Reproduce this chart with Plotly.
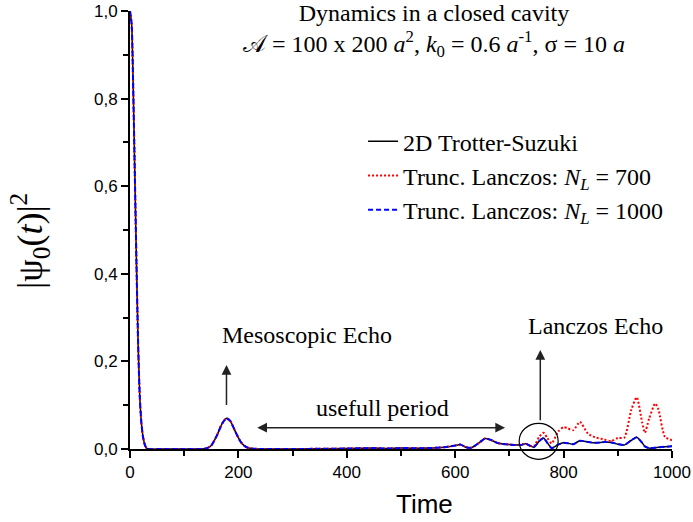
import plotly.graph_objects as go

# ---- data ----
time = [0, 3, 6, 9, 12, 15, 18, 21, 24, 27, 30, 35, 60, 100, 140, 150, 160, 170, 178,
        185, 195, 205, 215, 225, 240, 300, 400, 450, 470, 500, 550, 580, 600, 610,
        620, 630, 645, 655, 665, 680, 700, 720, 730, 737, 745, 755, 763, 770, 778,
        790, 800, 808, 818, 830, 845, 860, 875, 888, 900, 912, 925, 935, 945, 950,
        958, 969, 975, 987, 1000]

trotter = [1.0, 0.97, 0.82, 0.62, 0.42, 0.24, 0.12, 0.06, 0.028, 0.011, 0.003, 0.0,
           0.0, 0.0, 0.001, 0.008, 0.03, 0.058, 0.07, 0.064, 0.038, 0.015, 0.004,
           0.001, 0.0, 0.0, 0.001, 0.002, 0.001, 0.002, 0.002, 0.004, 0.008, 0.01,
           0.004, 0.003, 0.015, 0.024, 0.021, 0.013, 0.01, 0.009, 0.012, 0.008,
           0.004, 0.018, 0.025, 0.014, 0.002, 0.01, 0.014, 0.013, 0.011, 0.019,
           0.016, 0.014, 0.016, 0.015, 0.011, 0.009, 0.02, 0.027, 0.014, 0.006,
           0.002, 0.003, 0.004, 0.005, 0.006]

lanczos_700 = [1.0, 0.97, 0.82, 0.62, 0.42, 0.24, 0.12, 0.06, 0.028, 0.011, 0.003, 0.0,
               0.0, 0.0, 0.001, 0.008, 0.03, 0.058, 0.07, 0.064, 0.038, 0.015, 0.004,
               0.001, 0.0, 0.0, 0.001, 0.002, 0.001, 0.002, 0.002, 0.004, 0.008, 0.01,
               0.004, 0.003, 0.015, 0.024, 0.021, 0.013, 0.01, 0.009, 0.012, 0.008,
               0.006, 0.028, 0.037, 0.025, 0.013, 0.04, 0.05, 0.047, 0.043, 0.062,
               0.035, 0.026, 0.022, 0.018, 0.025, 0.026, 0.09, 0.118, 0.06, 0.037,
               0.07, 0.104, 0.09, 0.028, 0.02]

lanczos_1000 = list(trotter)

x_ticks = [0, 200, 400, 600, 800, 1000]
y_ticks = [0.0, 0.2, 0.4, 0.6, 0.8, 1.0]
y_ticktext = ["0,0", "0,2", "0,4", "0,6", "0,8", "1,0"]

X_RANGE = [0, 1000]
Y_RANGE = [0, 1.0]

SERIF = "Liberation Serif"
SANS = "Liberation Sans"

fig = go.Figure()
fig.add_trace(go.Scatter(x=time, y=trotter, mode="lines", name="2D Trotter-Suzuki",
                         line=dict(color="black", width=1.5, shape="spline", smoothing=0.6),
                         cliponaxis=False))
fig.add_trace(go.Scatter(x=time, y=lanczos_700, mode="lines",
                         name="Trunc. Lanczos: <i>N</i><sub><i>L</i></sub> = 700",
                         line=dict(color="#ff0000", width=2, dash="2px,2px", shape="spline", smoothing=0.6),
                         cliponaxis=False))
fig.add_trace(go.Scatter(x=time, y=lanczos_1000, mode="lines",
                         name="Trunc. Lanczos: <i>N</i><sub><i>L</i></sub> = 1000",
                         line=dict(color="#0000ff", width=2, dash="5px,3px", shape="spline", smoothing=0.6),
                         cliponaxis=False))


def px(v):
    return (v - X_RANGE[0]) / (X_RANGE[1] - X_RANGE[0])


def py(v):
    return (v - Y_RANGE[0]) / (Y_RANGE[1] - Y_RANGE[0])


annots = [
    dict(text="Dynamics in a closed cavity<br>"
              "𝒜 = 100 x 200 <i>a</i><sup>2</sup>, <i>k</i><sub>0</sub> = 0.6 <i>a</i><sup>-1</sup>, σ = 10 <i>a</i>",
         xref="paper", yref="paper", x=px(560), y=py(0.955), xanchor="center", yanchor="middle",
         showarrow=False, font=dict(family=SERIF, size=24, color="black")),
    dict(text="Mesoscopic Echo", xref="x", yref="y", x=326, y=0.26,
         xanchor="center", yanchor="middle", showarrow=False,
         font=dict(family=SERIF, size=24, color="black")),
    dict(text="usefull period", xref="x", yref="y", x=465, y=0.094,
         xanchor="center", yanchor="middle", showarrow=False,
         font=dict(family=SERIF, size=24, color="black")),
    dict(text="Lanczos Echo", xref="x", yref="y", x=859, y=0.28,
         xanchor="center", yanchor="middle", showarrow=False,
         font=dict(family=SERIF, size=24, color="black")),
    # axis titles
    dict(text="Time", xref="paper", yref="paper", x=px(544), y=-0.125,
         xanchor="center", yanchor="middle", showarrow=False,
         font=dict(family=SANS, size=26, color="black")),
    dict(text="|ψ<sub>0</sub>(<i>t</i>)|<sup>2</sup>", xref="paper", yref="paper",
         x=-0.1845, y=py(0.475), xanchor="center", yanchor="middle", textangle=-90,
         showarrow=False, font=dict(family=SERIF, size=36, color="black")),
    # arrows
    dict(text="", xref="x", yref="y", axref="x", ayref="y", x=178, y=0.192, ax=178, ay=0.097,
         showarrow=True, arrowhead=2, arrowsize=1.3, arrowwidth=1.5, arrowcolor="#222"),
    dict(text="", xref="x", yref="y", axref="x", ayref="y", x=692, y=0.0486, ax=232, ay=0.0486,
         showarrow=True, arrowhead=2, arrowside="end+start", arrowsize=1.3, arrowwidth=1.5,
         arrowcolor="#222"),
    dict(text="", xref="x", yref="y", axref="x", ayref="y", x=757, y=0.226, ax=757, ay=0.062,
         showarrow=True, arrowhead=2, arrowsize=1.3, arrowwidth=1.5, arrowcolor="#222"),
]

shapes = [
    dict(type="circle", xref="paper", yref="paper", x0=px(718), x1=px(790),
         y0=py(-0.0235), y1=py(0.0587), line=dict(color="black", width=1.2)),
]

fig.update_layout(
    width=693, height=522,
    margin=dict(l=130, r=21, t=11, b=73, autoexpand=False),
    paper_bgcolor="white", plot_bgcolor="white",
    showlegend=True,
    legend=dict(x=px(430), y=py(0.753), xanchor="left", yanchor="top",
                bgcolor="rgba(0,0,0,0)", borderwidth=0,
                font=dict(family=SERIF, size=24, color="black"),
                tracegroupgap=0, itemwidth=30),
    annotations=annots,
    shapes=shapes,
    xaxis=dict(range=X_RANGE, tickvals=x_ticks, showgrid=False, zeroline=False,
               showline=True, linecolor="black", linewidth=2,
               ticks="outside", ticklen=7, tickwidth=2, tickcolor="black",
               minor=dict(dtick=100, tick0=0, ticks="outside", ticklen=5, tickwidth=2, tickcolor="black"),
               tickfont=dict(family=SANS, size=17, color="black")),
    yaxis=dict(range=Y_RANGE, tickvals=y_ticks, ticktext=y_ticktext, showgrid=False, zeroline=False,
               showline=True, linecolor="black", linewidth=2,
               ticks="outside", ticklen=7, tickwidth=2, tickcolor="black",
               minor=dict(dtick=0.1, tick0=0, ticks="outside", ticklen=5, tickwidth=2, tickcolor="black"),
               tickfont=dict(family=SANS, size=17, color="black")),
)

fig.write_html("out.html")
